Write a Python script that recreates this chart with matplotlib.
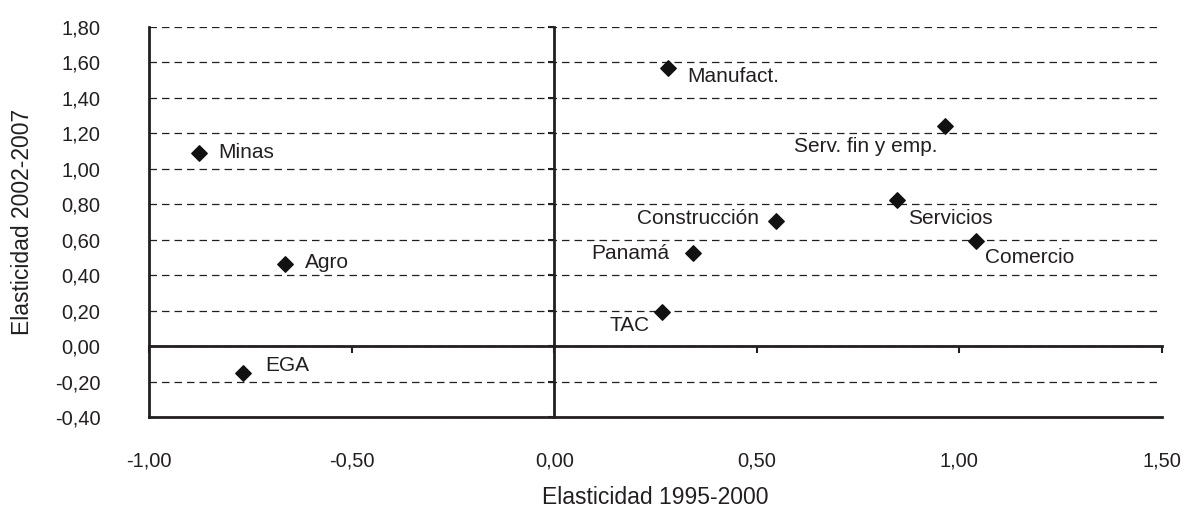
import matplotlib
matplotlib.use('Agg')
import matplotlib.pyplot as plt
from matplotlib.ticker import FuncFormatter

plt.rcParams['font.family'] = ['Liberation Sans', 'DejaVu Sans']

# Datos: elasticidades por sector
sectores = ['Minas', 'Agro', 'EGA', 'Manufact.', 'Serv. fin y emp.', 'Servicios',
            'Construcción', 'Panamá', 'Comercio', 'TAC']
elast_95_00 = [-0.877, -0.664, -0.767, 0.281, 0.965, 0.845, 0.547, 0.343, 1.042, 0.267]
elast_02_07 = [1.09, 0.465, -0.149, 1.568, 1.243, 0.823, 0.704, 0.525, 0.593, 0.191]

x_ticks = [-1.0, -0.5, 0.0, 0.5, 1.0, 1.5]
y_ticks = [-0.4, -0.2, 0.0, 0.2, 0.4, 0.6, 0.8, 1.0, 1.2, 1.4, 1.6, 1.8]

# posicion de cada etiqueta (offset en px, alineacion)
etiquetas = {
    'Minas': (19, 0, 'left'),
    'Agro': (20, 1, 'left'),
    'EGA': (22, 7, 'left'),
    'Manufact.': (19, -8, 'left'),
    'Serv. fin y emp.': (-8, -21, 'right'),
    'Servicios': (11, -18, 'left'),
    'Construcción': (-17, 3, 'right'),
    'Panamá': (-24, 0, 'right'),
    'Comercio': (9, -17, 'left'),
    'TAC': (-13, -13, 'right'),
}

color = '#231f20'
fmt = FuncFormatter(lambda v, p: f"{v:.2f}".replace('.', ','))

fig = plt.figure(figsize=(11.84, 5.08), dpi=100)
ax = fig.add_axes([149 / 1184, 1 - 417 / 508, (1162 - 149) / 1184, (417 - 27) / 508])

ax.set_xlim(-1.0, 1.5)
ax.set_ylim(-0.4, 1.8)
ax.set_xticks(x_ticks)
ax.set_yticks(y_ticks)
ax.xaxis.set_major_formatter(fmt)
ax.yaxis.set_major_formatter(fmt)
ax.tick_params(axis='x', length=0, pad=25, labelsize=14.5, labelcolor=color)
ax.tick_params(axis='y', length=0, pad=35, labelsize=14.5, labelcolor=color)

for s in ['top', 'right']:
    ax.spines[s].set_visible(False)
for s in ['left', 'bottom']:
    ax.spines[s].set_linewidth(2)
    ax.spines[s].set_color(color)

ax.yaxis.grid(True, linestyle=(0, (6, 4)), color=color, linewidth=0.9)
ax.set_axisbelow(True)

# ejes que cruzan en 0
x0 = (0 - ax.get_xlim()[0]) / (ax.get_xlim()[1] - ax.get_xlim()[0])
y0 = (0 - ax.get_ylim()[0]) / (ax.get_ylim()[1] - ax.get_ylim()[0])
secx = ax.secondary_xaxis(y0)
secx.set_xticks(x_ticks)
secx.tick_params(direction='out', length=5, width=1.5, color=color, labelbottom=False, labeltop=False)
secy = ax.secondary_yaxis(x0)
secy.set_yticks(y_ticks)
secy.tick_params(direction='out', length=4, width=1.5, color=color, labelleft=False, labelright=False)
for sec in [secx, secy]:
    for sp in sec.spines.values():
        sp.set_linewidth(2)
        sp.set_color(color)

ax.scatter(elast_95_00, elast_02_07, marker='D', s=62, color='#111111', zorder=5)

for nombre, xv, yv in zip(sectores, elast_95_00, elast_02_07):
    dx, dy, ha = etiquetas[nombre]
    ax.annotate(nombre, (xv, yv), xytext=(dx * 0.72, dy * 0.72), textcoords='offset points',
                ha=ha, va='center', fontsize=15, color=color)

ax.set_xlabel('Elasticidad 1995-2000', fontsize=16.5, color=color, labelpad=11)
ax.set_ylabel('Elasticidad 2002-2007', fontsize=16.5, color=color, labelpad=15)

fig.savefig('out.png', dpi=100)
